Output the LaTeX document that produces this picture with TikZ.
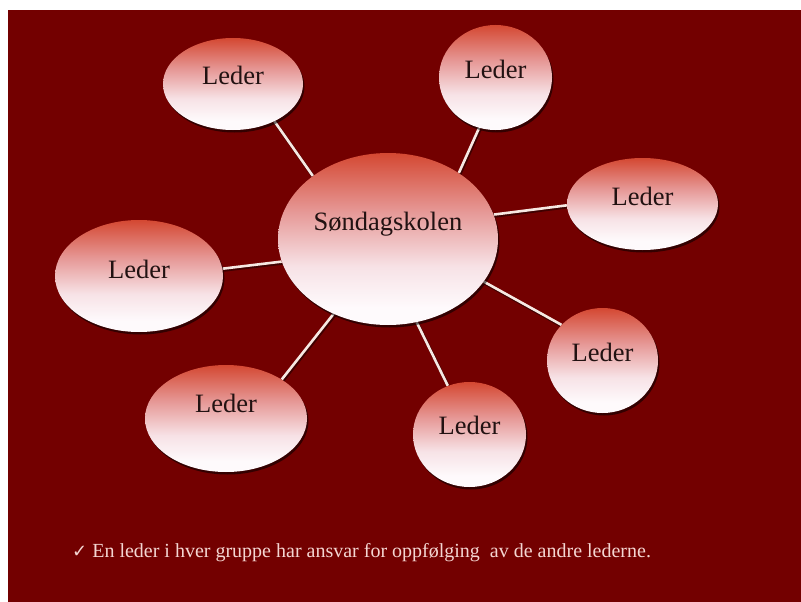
\documentclass[tikz,border=0pt]{standalone}
\usepackage{fontspec}
\setmainfont{Liberation Serif}
\newfontfamily\symfont{DejaVu Sans}
\usetikzlibrary{shapes.geometric,shadows}
\definecolor{slidebg}{RGB}{115,0,0}
\definecolor{ledtop}{RGB}{212,72,50}
\definecolor{ledmid}{RGB}{230,152,150}
\definecolor{ledlow}{RGB}{247,226,230}
\definecolor{ledbot}{RGB}{254,250,252}
\definecolor{linkcol}{RGB}{246,232,226}
\definecolor{txtdark}{RGB}{34,18,18}
\definecolor{notecol}{RGB}{244,214,210}
\pgfdeclareverticalshading{ledershade}{100bp}{color(0bp)=(ledbot); color(25bp)=(ledbot); color(30bp)=(ledbot); color(42bp)=(ledlow); color(58bp)=(ledmid); color(75bp)=(ledtop); color(100bp)=(ledtop)}
\pgfdeclarelayer{back}
\pgfdeclarelayer{links}
\pgfsetlayers{back,links,main}
\tikzset{
  bubble/.style={ellipse, shading=ledershade, inner sep=0pt, text=txtdark,
    font=\fontsize{26.5}{30}\selectfont, text height=9pt,
    drop shadow={shadow xshift=1.5pt, shadow yshift=-2.5pt, opacity=0.55, fill=black}},
  link/.style={draw=linkcol, line width=2.6pt},
  linkshadow/.style={draw=black, opacity=0.45, line width=3.2pt,
    transform canvas={shift={(1,1.5)}}},
  note/.style={anchor=base west, text=notecol, font=\fontsize{20}{24}\selectfont, inner sep=0pt}
}
\begin{document}
\begin{tikzpicture}[x=1pt,y=-1pt]
\useasboundingbox (0,0) rectangle (801,602);
\begin{pgfonlayer}{back}
  \fill[white] (0,0) rectangle (801,602);
  \fill[slidebg] (8,10) rectangle (801,602);
\end{pgfonlayer}

\node[bubble, minimum width=220pt, minimum height=172pt, text depth=25.46pt] (c) at (388,239) {Søndagskolen};
\node[bubble, minimum width=140pt, minimum height=92pt, text depth=8.46pt] (tl) at (233,84) {Leder};
\node[bubble, minimum width=113pt, minimum height=105pt, text depth=6.46pt] (t) at (495.5,77.5) {Leder};
\node[bubble, minimum width=151pt, minimum height=92pt, text depth=5.46pt] (r) at (642.5,204) {Leder};
\node[bubble, minimum width=168pt, minimum height=112pt, text depth=4.46pt] (l) at (139,276) {Leder};
\node[bubble, minimum width=162pt, minimum height=107pt, text depth=21.46pt] (bl) at (226,418.5) {Leder};
\node[bubble, minimum width=113pt, minimum height=105pt, text depth=8.46pt] (b) at (469.5,434.5) {Leder};
\node[bubble, minimum width=111pt, minimum height=105pt, text depth=7.46pt] (br) at (602.5,360.5) {Leder};

\begin{pgfonlayer}{links}
  \foreach \p/\q in {c.140/tl.-42, c.43/t.-108, c.13/r.181, c.192/l.5, c.234/bl.35, c.-71/b.114, c.-24/br.139}{
    \draw[linkshadow] (\p) -- (\q);
    \draw[link] (\p) -- (\q);
  }
\end{pgfonlayer}

\node[note] (n) at (72,557) {{\symfont\fontsize{18}{20}\selectfont ✓}\ En leder i hver gruppe har ansvar for oppfølging\ \ av de andre lederne.};
\end{tikzpicture}
\end{document}
